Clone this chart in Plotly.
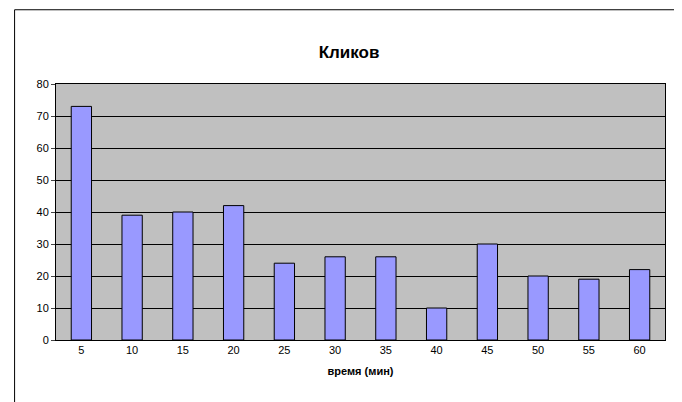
import plotly.graph_objects as go

minutes = ["5", "10", "15", "20", "25", "30", "35", "40", "45", "50", "55", "60"]
clicks = [73, 39, 40, 42, 24, 26, 26, 10, 30, 20, 19, 22]

fig = go.Figure()
fig.add_trace(go.Bar(
    x=minutes, y=clicks,
    marker=dict(color="#9999FF", line=dict(color="#000000", width=1)),
    width=0.4,
))
fig.update_layout(
    width=682, height=402,
    margin=dict(l=48, r=25, t=76, b=70),
    paper_bgcolor="white",
    plot_bgcolor="#C0C0C0",
    font=dict(family="Liberation Sans, Arial", size=11, color="black"),
    title=dict(text="<b>Кликов</b>", x=0.5, xanchor="center", y=0.905,
               font=dict(size=17)),
    showlegend=False,
    xaxis=dict(title=dict(text="<b>время (мин)</b>", font=dict(size=11), standoff=12),
               showline=True, linecolor="black", ticks="outside", ticklen=0,
               mirror=True),
    yaxis=dict(range=[0, 80], dtick=10, showgrid=True, gridcolor="black",
               gridwidth=1, showline=True, linecolor="black", ticks="outside",
               ticklen=4, mirror=True, zeroline=False),
    shapes=[dict(type="rect", xref="paper", yref="paper", x0=-0.068, x1=1.02,
                 y0=-0.25, y1=1.29, line=dict(color="black", width=1))],
)
fig.write_html("out.html")
